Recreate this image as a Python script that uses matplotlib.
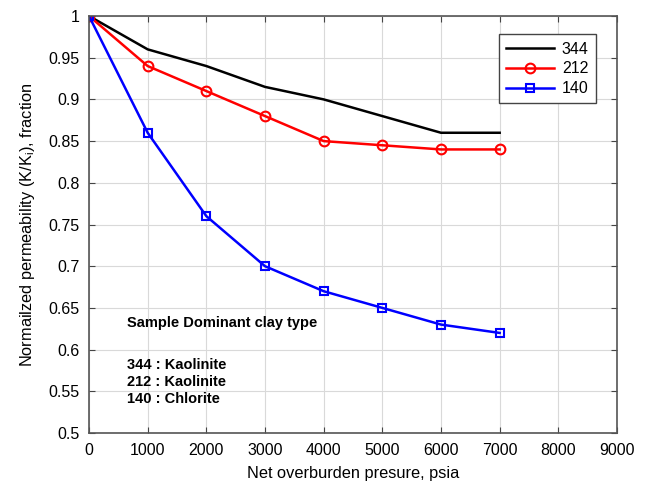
import matplotlib.pyplot as plt
import numpy as np

plt.rcParams['font.family'] = ['Liberation Sans', 'DejaVu Sans']
tamanho_fonte = 11.5

pressao = [0, 1000, 2000, 3000, 4000, 5000, 6000, 7000]
k_344 = [1.0, 0.96, 0.94, 0.915, 0.90, 0.88, 0.86, 0.86]
k_212 = [1.0, 0.94, 0.91, 0.88, 0.85, 0.845, 0.84, 0.84]
k_140 = [1.0, 0.86, 0.76, 0.70, 0.67, 0.65, 0.63, 0.62]

fig = plt.figure(figsize=(6.46, 4.86), dpi=100)
ax = fig.add_axes([89/646, 53/486, 528/646, 417/486])

ax.plot(pressao, k_344, color='k', linewidth=1.8, label='344')
ax.plot(pressao, k_212, color='r', linewidth=1.8, marker='o', markersize=7,
        markerfacecolor='none', markeredgewidth=1.5, label='212')
ax.plot(pressao, k_140, color='b', linewidth=1.8, marker='s', markersize=6,
        markerfacecolor='none', markeredgewidth=1.5, label='140')

ax.set_xlim(0, 9000)
ax.set_ylim(0.5, 1.0)
ax.set_xticks(np.arange(0, 9001, 1000))
ax.set_yticks(np.arange(0.5, 1.001, 0.05))
ax.set_yticklabels(['0.5', '0.55', '0.6', '0.65', '0.7', '0.75', '0.8', '0.85', '0.9', '0.95', '1'])
ax.tick_params(direction='in', top=True, right=True, labelsize=tamanho_fonte, length=4,
               color='#444444', pad=7)
for s in ax.spines.values():
    s.set_color('#555555')
    s.set_linewidth(1.2)
ax.grid(color='#d9d9d9', linewidth=0.8)
ax.set_axisbelow(True)

ax.set_xlabel('Net overburden presure, psia', fontsize=11.8, labelpad=6)
ax.set_ylabel('Normailzed permeability (K/K$_\\mathregular{i}$), fraction', fontsize=11.8,
              labelpad=8)

ax.legend(loc='upper right', bbox_to_anchor=(0.975, 0.975), fontsize=11.5, fancybox=False,
          edgecolor='#444444', framealpha=1, handlelength=3.0, borderpad=0.45, labelspacing=0.3,
          handletextpad=0.5)

ax.text(0.072, 0.264, 'Sample Dominant clay type', transform=ax.transAxes,
        fontsize=10.5, fontweight='bold', va='center')
ax.text(0.072, 0.122, '344 : Kaolinite\n212 : Kaolinite\n140 : Chlorite', transform=ax.transAxes,
        fontsize=10.5, fontweight='bold', va='center', linespacing=1.3)

fig.savefig('out.png', dpi=100)
plt.close()
